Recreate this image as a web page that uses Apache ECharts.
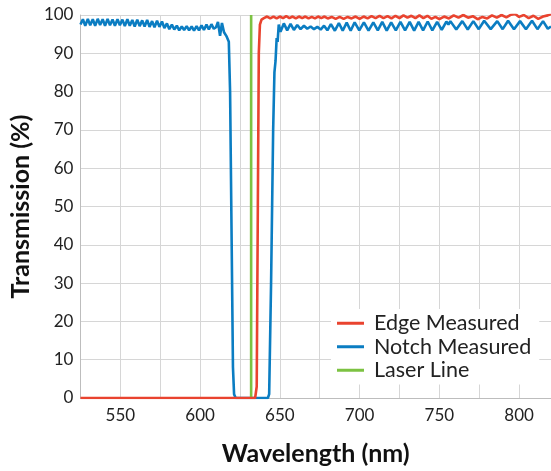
<!DOCTYPE html>
<html>
<head>
<meta charset="utf-8">
<script src="https://cdn.jsdelivr.net/npm/echarts@6/dist/echarts.min.js"></script>
<style>html,body{margin:0;padding:0;background:#fff;}#c{width:551px;height:471px;}</style>
</head>
<body>
<div id="c"></div>
<script>
var seriesNames = ['Edge Measured', 'Notch Measured', 'Laser Line'];
var xTicks = [550, 600, 650, 700, 750, 800];

var notchMeasured = [
[525,97.5],[526.5,98.9],[528,97.2],[529.6,99.0],[531.1,97.3],[532.7,98.9],[534.2,97.2],[535.8,99.0],[537.3,97.4],[538.9,98.9],[540.4,97.2],[542,99.0],[543.5,97.3],[545.1,98.8],[546.6,97.2],[548.2,98.9],[549.7,97.3],[551.3,98.8],[552.8,97.1],[554.4,98.9],[555.9,97.2],[557.5,98.7],[559,97.0],[560.6,98.8],[562.1,97.1],[563.7,98.6],[565.2,97.0],[566.8,98.7],[568.3,96.9],[569.9,98.4],[571.4,96.8],[573,98.5],[574.5,96.9],[576.1,98.3],[577.6,96.6],[579.2,97.8],[580.7,96.3],[582.3,97.5],[583.8,96.2],[585.4,97.2],[586.9,96.0],[588.5,97.0],[590,96.1],[591.6,97.1],[593.1,96.0],[594.7,97.0],[596.2,95.9],[597.8,97.1],[599.3,96.0],[600.9,97.3],[602.4,96.1],[604,97.5],[605.5,96.2],[607.1,97.6],[608.6,96.4],[610,96.8],[611.2,98.2],[612.5,94.6],[613.7,97.9],[615,95.5],[616.5,94.5],[618,93],[618.8,80],[619.8,40],[620.6,8],[621.3,1],[622.3,0],
[642.5,0],[643.3,1],[644.5,30],[645.8,70],[646.6,85],[647.3,88],[648,94],[648.6,93],[649.3,97.5],[650.4,95.6],[652.5,97.8],[654.6,96.0],[656.7,97.7],[658.8,96.1],[660.9,97.4],[663,96.3],[665.1,97.2],[667.2,96.4],[669.3,97.0],[671.4,96.3],[673.5,96.9],[675.6,96.2],[677.7,97.2],[679.8,96.0],[682,97.6],[684.5,95.9],[687,97.9],[689.4,95.9],[691.9,98.0],[694.4,95.9],[696.9,98.1],[699.8,96.0],[702.7,98.1],[705.6,95.9],[708.6,98.1],[711.4,96.0],[714.2,98.2],[717,95.9],[719.8,98.1],[722.7,96.0],[725.6,98.2],[728.5,96.0],[731.4,98.2],[734.2,95.9],[737,98.2],[739.8,96.0],[742.7,98.3],[745.6,96.0],[748.6,98.2],[751.5,96.1],[754.4,98.3],[755.7,97.5],[756.9,98.4],[760.6,96.2],[764.4,98.4],[767.8,96.2],[771.3,98.4],[774.7,96.3],[778.1,98.5],[782.2,96.3],[786.3,98.4],[789.7,96.3],[793.1,98.5],[796.8,96.3],[800.6,98.4],[804.3,96.3],[808.1,98.5],[811.5,96.3],[815,98.4],[818,96.4],[820,97.0]
];

var edgeMeasured = [
[525,0],[560,0],[600,0],[634.5,0],[635.5,3],[636.2,50],[636.8,90],[637.5,97.5],[638.5,98.8],[640,99.2],[642,99.6],[644,99.1],[646,99.6],[648,99.1],[650,99.6],[652,99.2],[654,99.7],[656,99.2],[658,99.6],[660,99.1],[662,99.6],[664,99.2],[666,99.6],[668,99.1],[670,99.5],[672,99.1],[674,99.6],[676,99.2],[678,99.6],[680,99.1],[682.5,99.5],[685,99.0],[687.5,99.5],[690,99.0],[692.5,99.5],[695,99.1],[697.5,99.6],[700,99.0],[702.5,99.6],[705,99.1],[707.5,99.7],[710,99.2],[712.5,99.8],[715,99.2],[717.5,99.7],[720,99.1],[722.5,99.8],[725,99.2],[727.5,99.9],[730,99.3],[732.5,99.8],[735,99.2],[737.5,99.9],[740,99.2],[742.5,99.8],[745,99.0],[747.5,99.5],[750,98.9],[753,99.6],[756,99.1],[759,99.9],[762,99.3],[765,100.0],[768,99.3],[771,99.7],[774,98.9],[777,99.5],[780,99.1],[783,99.9],[786,99.3],[789,100.0],[792,99.4],[795,100.1],[797.5,100.3],[800,99.5],[803,100.0],[806,99.2],[809,99.8],[812,99.0],[815,99.6],[818,99.9],[820,100.2]
];

var laserLine = [[632,0],[632,100]];

var chart = echarts.init(document.getElementById('c'), null, {renderer:'canvas'});
var font = 'Lato, "Open Sans", sans-serif';
chart.setOption({
  animation: false,
  backgroundColor: '#fff',
  grid: {left: 79, top: 15, right: 0, bottom: 68, containLabel: false},
  legend: {
    data: seriesNames,
    orient: 'vertical',
    left: 331, top: 309,
    backgroundColor: '#fff',
    padding: [3, 8, 3, 6],
    icon: 'rect', itemWidth: 27, itemHeight: 3, itemGap: 1,
    textStyle: {fontFamily: font, fontSize: 21.5, color: '#222', lineHeight: 22.5, padding: [0,0,0,5]}
  },
  xAxis: {
    type: 'value', min: 525, max: 820, interval: 25,
    name: 'Wavelength (nm)', nameLocation: 'middle', nameGap: 43,
    nameTextStyle: {fontFamily: font, fontSize: 25, fontWeight: 'bold', color: '#111'},
    axisLine: {show: true, lineStyle: {color: '#bdbdbd', width: 1}},
    axisTick: {show: false},
    axisLabel: {fontFamily: font, fontSize: 17, color: '#222', margin: 9, showMaxLabel: false,
      formatter: function(v){ return xTicks.indexOf(v) >= 0 ? String(v) : ''; }},
    splitLine: {show: true, lineStyle: {color: '#d6d6d6', width: 1}}
  },
  yAxis: {
    type: 'value', min: 0, max: 100, interval: 10,
    name: 'Transmission (%)', nameLocation: 'middle', nameGap: 44,
    nameTextStyle: {fontFamily: font, fontSize: 25, fontWeight: 'bold', color: '#111'},
    axisLine: {show: true, lineStyle: {color: '#bdbdbd', width: 1}},
    axisTick: {show: false},
    axisLabel: {fontFamily: font, fontSize: 17, color: '#222', margin: 7},
    splitLine: {show: true, lineStyle: {color: '#d6d6d6', width: 1}}
  },
  series: [
    {name: seriesNames[1], type: 'line', data: notchMeasured, showSymbol: false, symbol: 'none',
      lineStyle: {color: '#0b7dc2', width: 2.6}, itemStyle: {color: '#0b7dc2'}, z: 2},
    {name: seriesNames[2], type: 'line', data: laserLine, showSymbol: false, symbol: 'none',
      lineStyle: {color: '#7cc242', width: 2.6}, itemStyle: {color: '#7cc242'}, z: 3},
    {name: seriesNames[0], type: 'line', data: edgeMeasured, showSymbol: false, symbol: 'none',
      lineStyle: {color: '#e9432f', width: 2.6}, itemStyle: {color: '#e9432f'}, z: 4}
  ]
});
</script>
</body>
</html>
